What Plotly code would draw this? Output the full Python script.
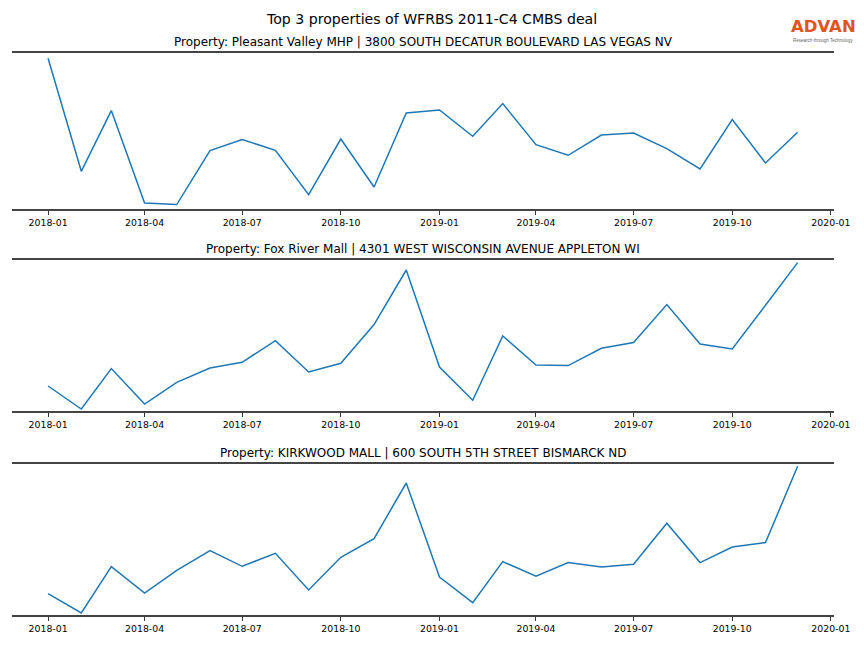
import plotly.graph_objects as go

months = [f"{y}-{m:02d}-01" for y in (2018, 2019) for m in range(1, 13)]

titles = [
    "Property: Pleasant Valley MHP | 3800 SOUTH DECATUR BOULEVARD LAS VEGAS NV",
    "Property: Fox River Mall | 4301 WEST WISCONSIN AVENUE APPLETON WI",
    "Property: KIRKWOOD MALL | 600 SOUTH 5TH STREET BISMARCK ND",
]

values_1 = [150.7, 37.7, 98.4, 6.0, 4.4, 58.4, 69.4, 58.7, 14.4, 70.0, 22.0, 96.0,
            99.0, 72.7, 105.4, 64.4, 53.7, 74.0, 76.0, 60.4, 40.0, 89.4, 46.0, 76.7]
values_2 = [25.0, 2.0, 42.4, 7.0, 28.7, 43.0, 48.7, 70.4, 39.0, 47.7, 86.4, 141.0,
            44.0, 10.7, 75.0, 46.0, 45.4, 62.7, 68.4, 106.4, 67.0, 62.0, 105.7, 148.4]
values_3 = [21.4, 2.0, 48.4, 22.0, 44.7, 64.4, 48.7, 61.7, 25.0, 57.7, 76.4, 132.0,
            38.0, 12.4, 53.4, 38.7, 52.4, 48.0, 50.7, 91.7, 52.4, 68.0, 72.4, 148.7]
series = [values_1, values_2, values_3]

# page body has an 8px margin; the page is seen ~880px wide and shown at 864
OFF = 8
K = 880 / 864
W, H = 864, 648 - 2 * OFF


def px(xr):
    return (xr * K - OFF) / W


def py(yr):
    return 1 - (yr - OFF) / H


x0, x1 = px(12), px(835)
panels_px = [(53, 209), (260, 411), (464, 615)]
yranges = [(0, 156), (0, 151), (0, 151)]

fig = go.Figure()
layout = dict(
    width=W, height=H,
    margin=dict(l=0, r=0, t=0, b=0),
    paper_bgcolor="white", plot_bgcolor="white",
    showlegend=False,
    font=dict(family="DejaVu Sans", color="black"),
)
annotations = []
for i, (vals, title, (top, bot), yr) in enumerate(zip(series, titles, panels_px, yranges)):
    n = "" if i == 0 else str(i + 1)
    fig.add_trace(go.Scatter(x=months, y=vals, mode="lines",
                             line=dict(color="#1f77b4", width=1.5),
                             xaxis="x" + n, yaxis="y" + n))
    layout["xaxis" + n] = dict(
        domain=[x0, x1], anchor="y" + n,
        type="date", range=["2017-11-28 12:00", "2020-01-03 19:00"],
        tick0="2018-01-01", dtick="M3", tickformat="%Y-%m",
        ticks="outside", ticklen=4, tickwidth=1, tickcolor="#333",
        showline=True, linecolor="#444", linewidth=2, mirror=True,
        showgrid=False, zeroline=False,
        tickfont=dict(family="DejaVu Sans", size=9.35, color="black"),
    )
    layout["yaxis" + n] = dict(
        domain=[py(bot), py(top)], anchor="x" + n,
        range=list(yr), showticklabels=False, showgrid=False,
        zeroline=False, showline=False, ticks="",
    )
    annotations.append(dict(
        text=title, xref="paper", yref="paper",
        x=(x0 + x1) / 2, y=py(top), xanchor="center", yanchor="bottom",
        yshift=2, showarrow=False,
        font=dict(family="DejaVu Sans", size=12, color="black"),
    ))

annotations.append(dict(
    text="Top 3 properties of WFRBS 2011-C4 CMBS deal", xref="paper", yref="paper",
    x=px(432), y=py(19), xanchor="center", yanchor="middle", showarrow=False,
    font=dict(family="DejaVu Sans", size=14.1, color="black"),
))
annotations.append(dict(
    text="<b>ADVAN</b>", xref="paper", yref="paper", borderpad=0,
    x=px(824.5), y=py(36.5), xanchor="center", yanchor="bottom", showarrow=False,
    font=dict(family="DejaVu Sans", size=16.5, color="#e2531f"),
))
annotations.append(dict(
    text="Research through Technology", xref="paper", yref="paper", borderpad=0,
    x=px(824), y=py(36.5), xanchor="center", yanchor="top", showarrow=False,
    font=dict(family="Liberation Sans", size=4.5, color="#666"),
))
layout["annotations"] = annotations
fig.update_layout(**layout)
fig.write_html("out.html")
